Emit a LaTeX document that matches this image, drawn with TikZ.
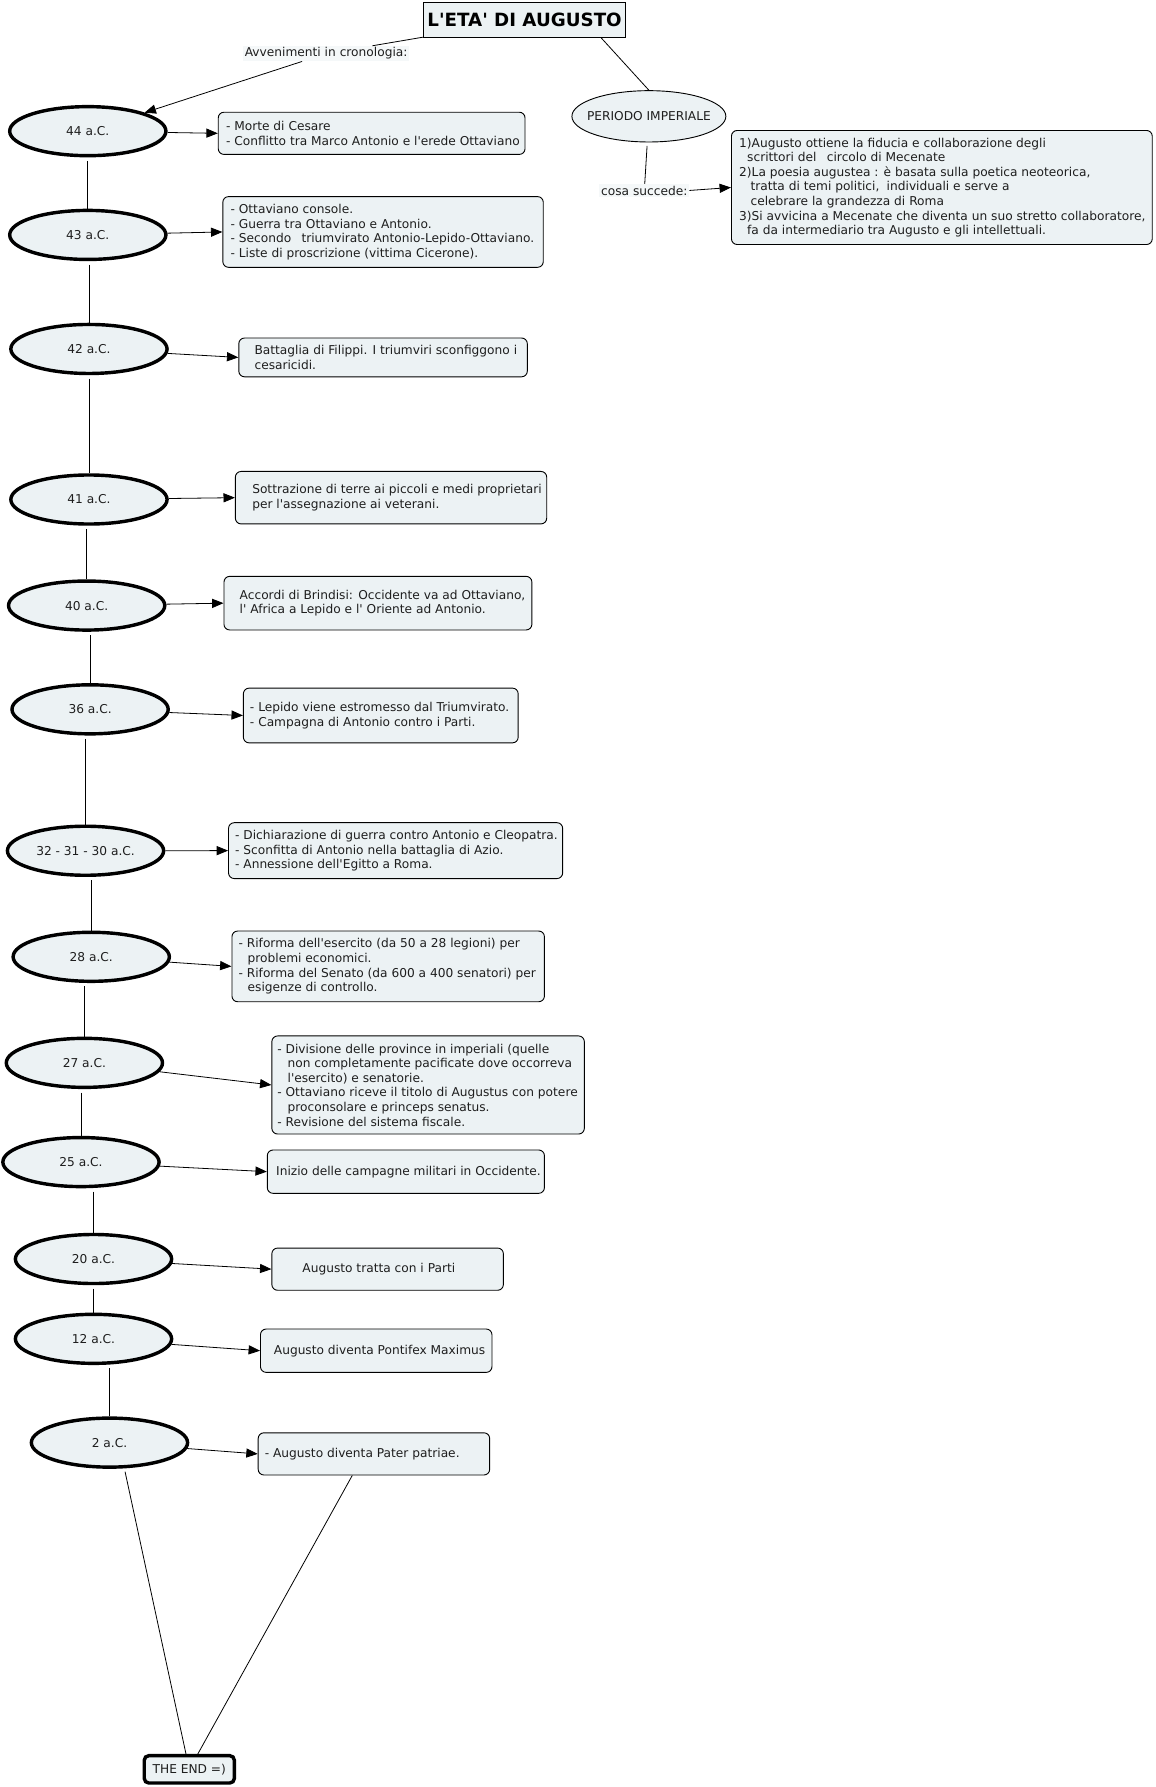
\documentclass[tikz,border=0pt]{standalone}
\usepackage{fontspec}
\setmainfont{DejaVu Sans}[Ligatures=TeXOff]
\usetikzlibrary{shapes.geometric,arrows.meta}
\definecolor{fillc}{RGB}{236,242,244}
\definecolor{txtc}{RGB}{30,30,30}
\newcommand\mytxfont{\fontsize{10.7}{12.8}\selectfont}
\tikzset{
  ev/.style={ellipse, draw, line width=3pt, fill=fillc, minimum width=137pt, minimum height=43pt, inner xsep=-8pt, inner ysep=0pt, font=\mytxfont, text=txtc},
  bx/.style={rectangle, rounded corners=5pt, draw, line width=0.8pt, fill=fillc, inner sep=0pt, anchor=north west},
  tx/.style={anchor=west, align=left, inner sep=0pt, font=\mytxfont, text=txtc},
  con/.style={line width=0.7pt},
  gapcon/.style={con, shorten <=3pt},
  arr/.style={con, -{Triangle[length=10pt,width=8pt]}},
  lab/.style={fill=fillc!55, inner sep=1.5pt, font=\mytxfont, text=txtc}
}
\begin{document}
\begin{tikzpicture}[x=1pt,y=-1pt]
\useasboundingbox (0,0) rectangle (1013,1567);

% title and side branch
\node[draw, line width=0.9pt, fill=fillc, minimum width=177pt, minimum height=30pt, inner sep=0pt, font=\fontsize{16}{18}\selectfont\bfseries] (title) at (460,17.5) {L'ETA' DI AUGUSTO};
\node[lab] (lab1) at (286,47) {Avvenimenti in cronologia:};
\node[ellipse, draw, line width=0.8pt, fill=fillc, minimum width=135pt, minimum height=45pt, inner xsep=-14pt, inner ysep=0pt, font=\mytxfont, text=txtc] (per) at (569,102) {PERIODO IMPERIALE};
\node[lab] (lab2) at (565,167) {cosa succede:};
\node[bx, minimum width=369pt, minimum height=100pt] (rbox) at (641,114) {};
\node[tx] (trbox) at ([xshift=7pt]rbox.west) {1)Augusto ottiene la fiducia e collaborazione degli\\
\hspace*{7pt}scrittori del\hspace*{9pt}circolo di Mecenate\\
2)La poesia augustea : è basata sulla poetica neoteorica,\\
\hspace*{10pt}tratta di temi politici,\hspace*{3pt} individuali e serve a\\
\hspace*{10pt}celebrare la grandezza di Roma\\
3)Si avvicina a Mecenate che diventa un suo stretto collaboratore,\\
\hspace*{7pt}fa da intermediario tra Augusto e gli intellettuali.};

% ellipses
\node[ev] (e44) at (77,115) {44 a.C.};
\node[ev] (e43) at (77,206) {43 a.C.};
\node[ev] (e42) at (78,306) {42 a.C.};
\node[ev] (e41) at (78,438) {41 a.C.};
\node[ev] (e40) at (76,531) {40 a.C.};
\node[ev] (e36) at (79,622) {36 a.C.};
\node[ev] (e32) at (75,746) {32 - 31 - 30 a.C.};
\node[ev] (e28) at (80,839) {28 a.C.};
\node[ev] (e27) at (74,932) {27 a.C.};
\node[ev] (e25) at (71,1019) {25 a.C.};
\node[ev] (e20) at (82,1104) {20 a.C.};
\node[ev] (e12) at (82,1174) {12 a.C.};
\node[ev] (e2) at (96,1265) {2 a.C.};
\node[rectangle, rounded corners=4pt, draw, line width=3pt, fill=fillc, minimum width=79pt, minimum height=24pt, inner sep=0pt, font=\mytxfont, text=txtc] (theend) at (166,1551.5) {THE END =)};

% boxes
\node[bx, minimum width=269pt, minimum height=37pt] (b44) at (191,98) {};
\node[tx] (t44) at ([xshift=7pt]b44.west) {- Morte di Cesare\\- Conflitto tra Marco Antonio e l'erede Ottaviano};
\node[bx, minimum width=281pt, minimum height=62pt] (b43) at (195,172) {};
\node[tx] (t43) at ([xshift=7pt]b43.west) {- Ottaviano console.\\- Guerra tra Ottaviano e Antonio.\\- Secondo\hspace*{9pt}triumvirato Antonio-Lepido-Ottaviano.\\- Liste di proscrizione (vittima Cicerone).};
\node[bx, minimum width=253pt, minimum height=34pt] (b42) at (209,296) {};
\node[tx] (t42) at ([xshift=14pt]b42.west) {Battaglia di Filippi. I triumviri sconfiggono i\\cesaricidi.};
\node[bx, minimum width=273pt, minimum height=46pt] (b41) at (206,413) {};
\node[tx] (t41) at ([xshift=15pt]b41.west) {Sottrazione di terre ai piccoli e medi proprietari\\per l'assegnazione ai veterani.};
\node[bx, minimum width=270pt, minimum height=47pt] (b40) at (196,505) {};
\node[tx] (t40) at ([xshift=14pt]b40.west) {Accordi di Brindisi: Occidente va ad Ottaviano,\\l' Africa a Lepido e l' Oriente ad Antonio.};
\node[bx, minimum width=241pt, minimum height=48pt] (b36) at (213,603) {};
\node[tx] (t36) at ([xshift=6pt]b36.west) {- Lepido viene estromesso dal Triumvirato.\\- Campagna di Antonio contro i Parti.};
\node[bx, minimum width=293pt, minimum height=49pt] (b32) at (200,721) {};
\node[tx] (t32) at ([xshift=6pt]b32.west) {- Dichiarazione di guerra contro Antonio e Cleopatra.\\- Sconfitta di Antonio nella battaglia di Azio.\\- Annessione dell'Egitto a Roma.};
\node[bx, minimum width=274pt, minimum height=62pt] (b28) at (203,816) {};
\node[tx] (t28) at ([xshift=6pt]b28.west) {- Riforma dell'esercito (da 50 a 28 legioni) per\\\hspace*{8pt}problemi economici.\\- Riforma del Senato (da 600 a 400 senatori) per\\\hspace*{8pt}esigenze di controllo.};
\node[bx, minimum width=274pt, minimum height=86pt] (b27) at (238,908) {};
\node[tx] (t27) at ([xshift=5pt]b27.west) {- Divisione delle province in imperiali (quelle\\\hspace*{9pt}non completamente pacificate dove occorreva\\\hspace*{9pt}l'esercito) e senatorie.\\- Ottaviano riceve il titolo di Augustus con potere\\\hspace*{9pt}proconsolare e princeps senatus.\\- Revisione del sistema fiscale.};
\node[bx, minimum width=243pt, minimum height=38pt] (b25) at (234,1008) {};
\node[tx] (t25) at ([xshift=8pt]b25.west) {Inizio delle campagne militari in Occidente.};
\node[bx, minimum width=203pt, minimum height=37pt] (b20) at (238,1094) {};
\node[tx] (t20) at ([xshift=27pt]b20.west) {Augusto tratta con i Parti};
\node[bx, minimum width=203pt, minimum height=38pt] (b12) at (228,1165) {};
\node[tx] (t12) at ([xshift=12pt]b12.west) {Augusto diventa Pontifex Maximus};
\node[bx, minimum width=203pt, minimum height=37pt] (b2) at (226,1256) {};
\node[tx] (t2) at ([xshift=6pt]b2.west) {- Augusto diventa Pater patriae.};

% connectors
\draw[con] (title.-13) -- (per.north);
\draw[con] (title) -- (lab1);
\draw[arr] (lab1) -- (e44);
\draw[gapcon] (per) -- (lab2);
\draw[arr] (lab2.east) -- (rbox.west);

\draw[gapcon] (e43.north |- e44.south) -- (e43.north);
\draw[gapcon] (e42.north |- e43.south) -- (e42.north);
\draw[gapcon] (e41.north |- e42.south) -- (e41.north);
\draw[gapcon] (e40.north |- e41.south) -- (e40.north);
\draw[gapcon] (e36.north |- e40.south) -- (e36.north);
\draw[gapcon] (e32.north |- e36.south) -- (e32.north);
\draw[gapcon] (e28.north |- e32.south) -- (e28.north);
\draw[gapcon] (e27.north |- e28.south) -- (e27.north);
\draw[gapcon] (e25.north |- e27.south) -- (e25.north);
\draw[gapcon] (e20.north |- e25.south) -- (e20.north);
\draw[gapcon] (e12.north |- e20.south) -- (e12.north);
\draw[gapcon] (e2.north |- e12.south) -- (e2.north);
\draw[gapcon] (e2.-60) -- (theend);
\draw[con] ([xshift=-19pt]b2.south) -- (theend);

\draw[arr] (e44) -- (b44.west);
\draw[arr] (e43) -- (b43.west);
\draw[arr] (e42) -- (b42.west);
\draw[arr] (e41) -- (b41.west);
\draw[arr] (e40) -- (b40.west);
\draw[arr] (e36) -- (b36.west);
\draw[arr] (e32) -- (b32.west);
\draw[arr] (e28) -- (b28.west);
\draw[arr] (e27) -- (b27.west);
\draw[arr] (e25) -- (b25.west);
\draw[arr] (e20) -- (b20.west);
\draw[arr] (e12) -- (b12.west);
\draw[arr] (e2) -- (b2.west);
\end{tikzpicture}
\end{document}
